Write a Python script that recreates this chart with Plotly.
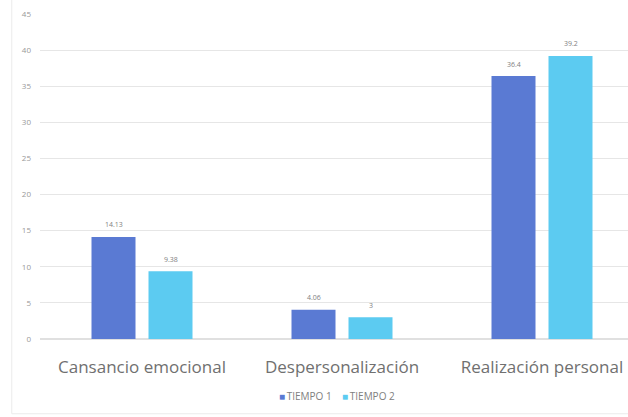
import plotly.graph_objects as go

# Dimensiones del inventario y puntuaciones medias en cada medición
categorias = ["Cansancio emocional", "Despersonalización", "Realización personal"]
tiempo_1 = [14.13, 4.06, 36.4]
tiempo_2 = [9.38, 3, 39.2]
etiquetas_1 = ["14.13", "4.06", "36.4"]
etiquetas_2 = ["9.38", "3", "39.2"]
series = ["TIEMPO 1", "TIEMPO 2"]
ticks_y = [0, 5, 10, 15, 20, 25, 30, 35, 40, 45]

COLOR_1 = "#5A7AD3"
COLOR_2 = "#5CCBF1"
FUENTE = "'Open Sans', Lato, sans-serif"

fig = go.Figure()
fig.add_trace(go.Bar(x=categorias, y=tiempo_1, name=series[0], showlegend=False,
                     marker=dict(color=COLOR_1, line=dict(width=0))))
fig.add_trace(go.Bar(x=categorias, y=tiempo_2, name=series[1], showlegend=False,
                     marker=dict(color=COLOR_2, line=dict(width=0))))

# Etiquetas de valor sobre cada barra
anotaciones = []
for cat, v, t in zip(categorias, tiempo_1, etiquetas_1):
    anotaciones.append(dict(x=cat, y=v, text=t, showarrow=False, xshift=-28.5,
                            yshift=12, font=dict(size=7, color="#7f7f7f", family=FUENTE)))
for cat, v, t in zip(categorias, tiempo_2, etiquetas_2):
    anotaciones.append(dict(x=cat, y=v, text=t, showarrow=False, xshift=28.5,
                            yshift=12, font=dict(size=7, color="#7f7f7f", family=FUENTE)))

# Leyenda compacta: cuadrado de color seguido del nombre de la serie
leyenda = "&nbsp;&nbsp;&nbsp;&nbsp;".join(
    f"<span style='color:{c}'>■</span>\u2009{s}" for c, s in zip([COLOR_1, COLOR_2], series)
)
anotaciones.append(dict(xref="paper", yref="paper", x=0.505, y=-0.176, xanchor="center",
                        yanchor="middle", text=leyenda, showarrow=False,
                        font=dict(size=10, color="#808080", family=FUENTE)))

fig.update_layout(
    width=628, height=417,
    margin=dict(l=40, r=0, t=14, b=78),
    paper_bgcolor="white", plot_bgcolor="white",
    barmode="group", bargap=0.43, bargroupgap=0.228,
    font=dict(family=FUENTE, color="#808080"),
    annotations=anotaciones,
    xaxis=dict(range=[-0.51, 2.43], showgrid=False, showline=False, zeroline=False,
               ticks="", tickfont=dict(size=17, color="#707070"), ticklabelstandoff=16),
    yaxis=dict(range=[0, 45], tickvals=ticks_y, showgrid=True, gridcolor="#E6E6E6",
               gridwidth=1, zeroline=True, zerolinecolor="#E0E0E0", showline=False,
               ticks="", tickfont=dict(size=8, color="#999999"), ticklabelstandoff=8),
    shapes=[dict(type="rect", xref="paper", yref="paper", x0=-0.048, x1=1.05,
                 y0=-0.23, y1=1.2, line=dict(color="#EBEBEB", width=1),
                 fillcolor="rgba(0,0,0,0)", layer="below")],
)

fig.write_html("out.html")
